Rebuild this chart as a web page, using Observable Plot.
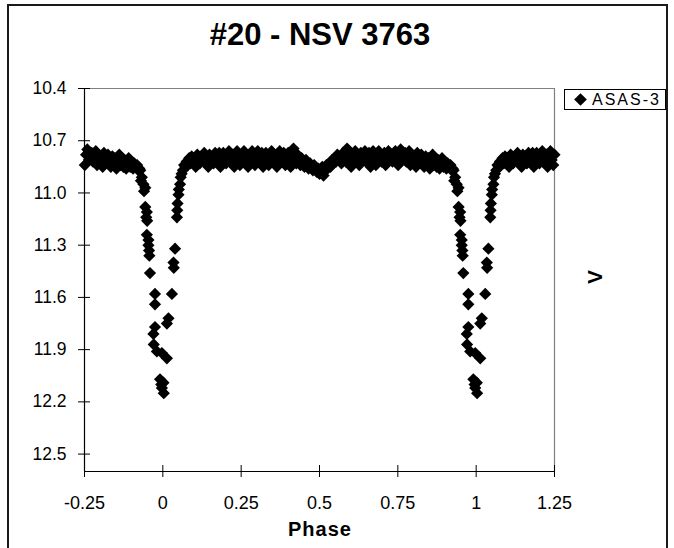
<!DOCTYPE html>
<html><head><meta charset="utf-8">
<script src="https://cdn.jsdelivr.net/npm/d3@7"></script>
<script src="https://cdn.jsdelivr.net/npm/@observablehq/plot@0.6"></script>
<style>
body{margin:0;background:#fff;font-family:"Liberation Sans",Arial,sans-serif;}
#wrap{position:relative;width:674px;height:548px;overflow:hidden;background:#fff;}
#wrap svg{position:absolute;left:0;top:0;}
#frame{position:absolute;left:7px;top:4px;width:661px;height:600px;border:2px solid #1a1a1a;box-sizing:border-box;}
#title{position:absolute;left:0;width:640px;top:17px;text-align:center;font-weight:bold;font-size:31px;line-height:36px;color:#000;}
#legend{position:absolute;left:564px;top:89px;width:102px;height:21px;border:1px solid #000;box-sizing:border-box;font-size:16px;line-height:19px;letter-spacing:2px;color:#000;white-space:nowrap;}
#legend .sym{display:inline-block;width:9px;height:9px;background:#000;transform:rotate(45deg);margin:0 7px 1px 11px;}
#xlabel{position:absolute;left:0;width:640px;top:517px;text-align:center;font-weight:bold;font-size:20px;line-height:24px;letter-spacing:1px;}
#ylabel{position:absolute;left:585px;top:266px;width:20px;height:22px;text-align:center;font-weight:bold;font-size:21px;line-height:22px;transform:rotate(-90deg);}
</style></head>
<body>
<div id="wrap">
  <div id="frame"></div>
  <div id="title">#20 - NSV 3763</div>
  <div id="legend"><span class="sym"></span>ASAS-3</div>
  <div id="xlabel">Phase</div>
  <div id="ylabel">V</div>
</div>
<script>
// Base cycle phases (0..1) and V magnitudes
const phases = [
  0.002,0.003,0.991,0.995,0.997,
  0.975,0.970,0.971,0.981,0.997,0.013,0.018,0.013,0.029,0.034,0.035,0.039,
  0.045,0.046,0.047,0.050,0.051,0.055,0.057,0.060,0.064,0.068,
  0.928,0.930,0.933,0.938,0.940,0.944,0.944,0.949,0.947,0.950,0.949,0.954,0.954,0.956,0.957,0.959,0.975,0.975,
  0.072,0.076,0.080,0.084,0.088,0.092,0.097,0.101,0.105,0.110,0.114,0.118,0.123,0.127,0.132,0.136,0.140,0.145,0.149,0.153,
  0.158,0.162,0.167,0.171,0.175,0.180,0.184,0.189,0.193,0.197,0.202,0.206,0.211,0.215,0.219,0.224,0.228,0.233,0.237,0.241,
  0.246,0.250,0.255,0.259,0.263,0.268,0.272,0.277,0.281,0.285,0.290,0.294,0.299,0.303,0.307,0.312,0.316,0.320,0.325,0.329,
  0.334,0.338,0.342,0.347,0.351,0.356,0.360,0.364,0.369,0.373,0.378,0.382,0.386,0.391,0.395,0.400,0.404,0.408,0.413,0.417,
  0.421,0.426,0.430,0.435,0.439,0.443,0.448,0.452,0.457,0.461,0.465,0.470,0.474,0.479,0.483,0.487,0.492,0.496,0.500,0.505,
  0.509,0.513,0.518,0.522,0.526,0.531,0.535,0.540,0.544,0.548,0.553,0.557,0.562,0.566,0.570,0.575,0.579,0.584,0.588,0.592,
  0.597,0.601,0.605,0.610,0.614,0.619,0.623,0.627,0.632,0.636,0.641,0.645,0.649,0.654,0.658,0.663,0.667,0.671,0.676,0.680,
  0.685,0.689,0.693,0.698,0.702,0.707,0.711,0.715,0.720,0.724,0.729,0.733,0.737,0.742,0.746,0.751,0.755,0.759,0.764,0.768,
  0.773,0.777,0.781,0.786,0.790,0.795,0.799,0.803,0.808,0.812,0.817,0.821,0.825,0.830,0.834,0.839,0.843,0.847,0.852,0.856,
  0.861,0.865,0.869,0.874,0.878,0.883,0.887,0.891,0.896,0.900,0.905,0.909,0.913,0.918,0.922,0.925
];
const mags = [
  12.09,12.15,12.07,12.10,12.12,
  11.77,11.81,11.87,11.91,11.92,11.95,11.72,11.75,11.58,11.40,11.43,11.32,
  11.14,11.10,11.06,11.01,10.98,10.95,10.91,10.89,10.87,10.84,
  10.87,10.93,10.91,10.95,10.99,10.97,11.08,11.11,11.14,11.16,11.24,11.27,11.30,11.33,11.36,11.46,11.58,11.64,
  10.85,10.82,10.84,10.80,10.83,10.79,10.82,10.80,10.85,10.78,10.81,10.83,10.79,10.81,10.77,10.82,10.80,10.85,10.78,10.81,
  10.79,10.83,10.77,10.80,10.82,10.77,10.85,10.80,10.77,10.81,10.83,10.79,10.76,10.82,10.80,10.78,10.85,10.79,10.76,10.81,
  10.84,10.78,10.80,10.76,10.82,10.79,10.85,10.78,10.81,10.76,10.80,10.84,10.79,10.76,10.82,10.80,10.77,10.85,10.81,10.77,
  10.79,10.84,10.80,10.76,10.82,10.78,10.81,10.85,10.79,10.76,10.82,10.80,10.77,10.84,10.80,10.77,10.81,10.85,10.79,10.745,
  10.80,10.83,10.78,10.81,10.84,10.80,10.82,10.85,10.81,10.84,10.86,10.83,10.85,10.87,10.84,10.86,10.88,10.86,10.89,10.87,
  10.85,10.90,10.87,10.84,10.86,10.83,10.85,10.81,10.83,10.80,10.82,10.78,10.81,10.79,10.83,10.77,10.80,10.82,10.745,10.79,
  10.81,10.85,10.78,10.80,10.76,10.82,10.79,10.84,10.77,10.81,10.79,10.76,10.82,10.80,10.77,10.85,10.79,10.76,10.81,10.84,
  10.78,10.76,10.80,10.82,10.79,10.77,10.84,10.80,10.76,10.81,10.78,10.82,10.79,10.76,10.80,10.84,10.78,10.75,10.81,10.79,
  10.77,10.82,10.80,10.76,10.84,10.78,10.81,10.79,10.85,10.77,10.80,10.82,10.78,10.81,10.85,10.79,10.82,10.80,10.86,10.81,
  10.78,10.84,10.80,10.85,10.81,10.86,10.82,10.80,10.85,10.82,10.86,10.83,10.85,10.84,10.87,10.86
];
const xTicks = [-0.25, 0, 0.25, 0.5, 0.75, 1, 1.25];
const xTickLabels = ["-0.25", "0", "0.25", "0.5", "0.75", "1", "1.25"];
const yTicks = [10.4, 10.7, 11.0, 11.3, 11.6, 11.9, 12.2, 12.5];
const yTickLabels = ["10.4", "10.7", "11.0", "11.3", "11.6", "11.9", "12.2", "12.5"];
const seriesName = "ASAS-3";

// Phase-folded plot repeats the cycle: shown from -0.25 to 1.25
const points = [];
phases.forEach((p, i) => {
  points.push({phase: p, mag: mags[i]});
  if (p >= 0.75) points.push({phase: p - 1, mag: mags[i]});
  if (p <= 0.25) points.push({phase: p + 1, mag: mags[i]});
});

const chart = Plot.plot({
  width: 674, height: 548,
  marginLeft: 84, marginRight: 120, marginTop: 88, marginBottom: 77,
  x: {domain: [-0.25, 1.25]},
  y: {domain: [10.4, 12.6], reverse: true},
  style: {fontFamily: "'Liberation Sans', Arial, sans-serif", fontSize: "16px", color: "#000", background: "transparent", overflow: "visible"},
  marks: [
    Plot.ruleY([10.4], {stroke: "#808080", strokeWidth: 1.2}),
    Plot.ruleX([1.25], {stroke: "#808080", strokeWidth: 1.2}),
    Plot.dot(points, {x: "phase", y: "mag", symbol: "diamond2", r: 5.5, fill: "#000", stroke: "none"}),
    Plot.ruleX([-0.25], {stroke: "#000", strokeWidth: 1.2}),
    Plot.ruleY([12.6], {stroke: "#000", strokeWidth: 1.2}),
    Plot.axisY({ticks: yTicks, tickFormat: (d) => yTickLabels[yTicks.indexOf(d)], tickSize: 6, tickPadding: 12, label: null, stroke: "#000", fontSize: 17.5, style: {letterSpacing: "2.5px"}}),
    Plot.axisY({ticks: yTicks, text: null, tickSize: 6, dx: 6, label: null, stroke: "#000"}),
    Plot.axisX({ticks: xTicks, tickFormat: (d) => xTickLabels[xTicks.indexOf(d)], tickSize: 6, tickPadding: 19, label: null, stroke: "#000", fontSize: 18}),
    Plot.axisX({ticks: xTicks, text: null, tickSize: 6, dy: -6, label: null, stroke: "#000"})
  ]
});
document.getElementById("wrap").prepend(chart);
</script>
</body></html>
